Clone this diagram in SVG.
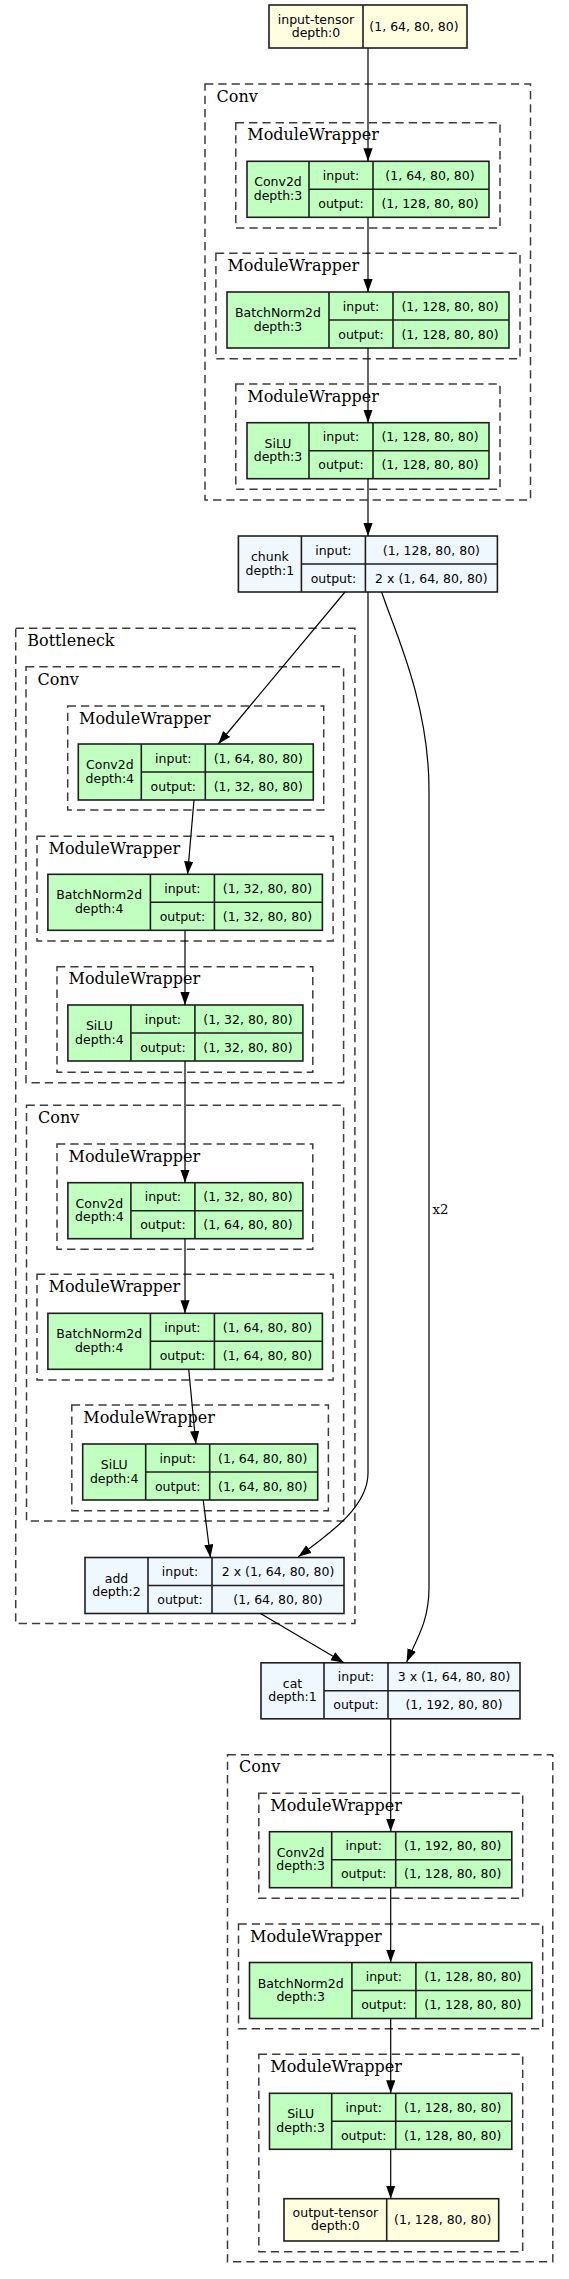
<svg xmlns="http://www.w3.org/2000/svg" width="569" height="2279" viewBox="0 0 569 2279">
<style>
.c{fill:none;stroke:#3c3c3c;stroke-width:1.5;stroke-dasharray:8.3,5}
.cl{font-family:"DejaVu Serif",serif;font-size:16px;fill:#000}
.n rect,.n line{stroke:#1e1e1e;stroke-width:1.6}
.g rect{fill:#c1ffc1}.b rect{fill:#f0f8ff}.y rect{fill:#ffffe0}
.t{font-family:"DejaVu Sans",sans-serif;font-size:12.5px;text-anchor:middle;fill:#000}
.e{fill:none;stroke:#000;stroke-width:1.2;marker-end:url(#a)}
.el{font-family:"DejaVu Serif",serif;font-size:13.3px;fill:#000}
</style>
<defs>
<marker id="a" markerUnits="userSpaceOnUse" markerWidth="14" markerHeight="10" refX="13" refY="4.6" orient="auto">
<path d="M0,0 L13,4.6 L0,9.2 z" fill="#000"/>
</marker>
</defs>
<rect width="569" height="2279" fill="#fff"/>

<!-- clusters -->
<g id="clusters">
<g id="conv-top"><rect class="c" x="205" y="84" width="325.5" height="416"/><text class="cl" x="216.5" y="101.7">Conv</text></g>
<g id="mw-top-1"><rect class="c" x="235.8" y="122.7" width="264.2" height="105.3"/><text class="cl" x="247.3" y="140.4">ModuleWrapper</text></g>
<g id="mw-top-2"><rect class="c" x="215.9" y="253.3" width="304.1" height="105.4"/><text class="cl" x="227.4" y="271">ModuleWrapper</text></g>
<g id="mw-top-3"><rect class="c" x="235.8" y="384" width="264.2" height="105.3"/><text class="cl" x="247.3" y="401.7">ModuleWrapper</text></g>

<g id="bottleneck"><rect class="c" x="15.7" y="628.3" width="339.2" height="995.3"/><text class="cl" x="27.3" y="646">Bottleneck</text></g>
<g id="conv-b1"><rect class="c" x="26" y="666.7" width="317.6" height="416"/><text class="cl" x="37.5" y="684.5">Conv</text></g>
<g id="mw-b1-1"><rect class="c" x="67.7" y="706" width="256" height="104"/><text class="cl" x="79" y="723.5">ModuleWrapper</text></g>
<g id="mw-b1-2"><rect class="c" x="37" y="836.3" width="296.1" height="104.7"/><text class="cl" x="48.5" y="854">ModuleWrapper</text></g>
<g id="mw-b1-3"><rect class="c" x="57" y="966.7" width="255.8" height="105.6"/><text class="cl" x="68.5" y="984.4">ModuleWrapper</text></g>
<g id="conv-b2"><rect class="c" x="26.5" y="1105.3" width="317.1" height="415.7"/><text class="cl" x="38" y="1123">Conv</text></g>
<g id="mw-b2-1"><rect class="c" x="57" y="1144" width="255.8" height="105.3"/><text class="cl" x="68.5" y="1161.7">ModuleWrapper</text></g>
<g id="mw-b2-2"><rect class="c" x="37" y="1274.3" width="296.1" height="105.7"/><text class="cl" x="48.5" y="1292">ModuleWrapper</text></g>
<g id="mw-b2-3"><rect class="c" x="71.8" y="1405" width="256.6" height="105.7"/><text class="cl" x="83.3" y="1422.7">ModuleWrapper</text></g>

<g id="conv-bot"><rect class="c" x="227.5" y="1754.7" width="325.3" height="507"/><text class="cl" x="239" y="1772.4">Conv</text></g>
<g id="mw-bot-1"><rect class="c" x="258.8" y="1793.3" width="263.9" height="105"/><text class="cl" x="270.3" y="1811">ModuleWrapper</text></g>
<g id="mw-bot-2"><rect class="c" x="238.5" y="1924" width="304.2" height="104.7"/><text class="cl" x="250" y="1941.7">ModuleWrapper</text></g>
<g id="mw-bot-3"><rect class="c" x="258.8" y="2054.3" width="263.9" height="197.4"/><text class="cl" x="270.3" y="2072">ModuleWrapper</text></g>
</g>

<!-- nodes -->
<g id="input-tensor" class="n y">
<rect x="269" y="5" width="198" height="43"/><line x1="363" y1="5" x2="363" y2="48"/>
<text class="t" x="316" y="23.5">input-tensor</text><text class="t" x="316" y="36.5">depth:0</text>
<text class="t" x="414" y="31">(1, 64, 80, 80)</text>
</g>

<g id="conv2d-top" class="n g">
<rect x="247" y="161.3" width="242" height="56"/><line x1="309" y1="161.3" x2="309" y2="217.3"/><line x1="373" y1="161.3" x2="373" y2="217.3"/><line x1="309" y1="189.3" x2="489" y2="189.3"/>
<text class="t" x="278" y="186.3">Conv2d</text><text class="t" x="278" y="199.8">depth:3</text>
<text class="t" x="341" y="179.8">input:</text><text class="t" x="341" y="207.8">output:</text>
<text class="t" x="430" y="179.8">(1, 64, 80, 80)</text><text class="t" x="430" y="207.8">(1, 128, 80, 80)</text>
</g>

<g id="bn-top" class="n g">
<rect x="227" y="292" width="282" height="56"/><line x1="329" y1="292" x2="329" y2="348"/><line x1="393" y1="292" x2="393" y2="348"/><line x1="329" y1="320" x2="509" y2="320"/>
<text class="t" x="278" y="317">BatchNorm2d</text><text class="t" x="278" y="330.5">depth:3</text>
<text class="t" x="361" y="310.5">input:</text><text class="t" x="361" y="338.5">output:</text>
<text class="t" x="450" y="310.5">(1, 128, 80, 80)</text><text class="t" x="450" y="338.5">(1, 128, 80, 80)</text>
</g>

<g id="silu-top" class="n g">
<rect x="247" y="422.7" width="242" height="56"/><line x1="309" y1="422.7" x2="309" y2="478.7"/><line x1="373" y1="422.7" x2="373" y2="478.7"/><line x1="309" y1="450.7" x2="489" y2="450.7"/>
<text class="t" x="278" y="447.7">SiLU</text><text class="t" x="278" y="461.2">depth:3</text>
<text class="t" x="341" y="441.2">input:</text><text class="t" x="341" y="469.2">output:</text>
<text class="t" x="430" y="441.2">(1, 128, 80, 80)</text><text class="t" x="430" y="469.2">(1, 128, 80, 80)</text>
</g>

<g id="chunk" class="n b">
<rect x="238.4" y="536" width="259" height="56"/><line x1="301.4" y1="536" x2="301.4" y2="592"/><line x1="365.4" y1="536" x2="365.4" y2="592"/><line x1="301.4" y1="564" x2="497.4" y2="564"/>
<text class="t" x="269.9" y="561">chunk</text><text class="t" x="269.9" y="574.5">depth:1</text>
<text class="t" x="333.4" y="554.5">input:</text><text class="t" x="333.4" y="582.5">output:</text>
<text class="t" x="431.4" y="554.5">(1, 128, 80, 80)</text><text class="t" x="431.4" y="582.5">2 x (1, 64, 80, 80)</text>
</g>

<g id="conv2d-b1" class="n g">
<rect x="78.3" y="744" width="235" height="56"/><line x1="141.3" y1="744" x2="141.3" y2="800"/><line x1="205.3" y1="744" x2="205.3" y2="800"/><line x1="141.3" y1="772" x2="313.3" y2="772"/>
<text class="t" x="109.8" y="769">Conv2d</text><text class="t" x="109.8" y="782.5">depth:4</text>
<text class="t" x="173.3" y="762.5">input:</text><text class="t" x="173.3" y="790.5">output:</text>
<text class="t" x="258.3" y="762.5">(1, 64, 80, 80)</text><text class="t" x="258.3" y="790.5">(1, 32, 80, 80)</text>
</g>

<g id="bn-b1" class="n g">
<rect x="47.9" y="874.3" width="274.5" height="56"/><line x1="150.4" y1="874.3" x2="150.4" y2="930.3"/><line x1="214.4" y1="874.3" x2="214.4" y2="930.3"/><line x1="150.4" y1="902.3" x2="322.4" y2="902.3"/>
<text class="t" x="99.2" y="899.3">BatchNorm2d</text><text class="t" x="99.2" y="912.8">depth:4</text>
<text class="t" x="182.4" y="892.8">input:</text><text class="t" x="182.4" y="920.8">output:</text>
<text class="t" x="267.4" y="892.8">(1, 32, 80, 80)</text><text class="t" x="267.4" y="920.8">(1, 32, 80, 80)</text>
</g>

<g id="silu-b1" class="n g">
<rect x="67.9" y="1005" width="235" height="56"/><line x1="130.9" y1="1005" x2="130.9" y2="1061"/><line x1="194.9" y1="1005" x2="194.9" y2="1061"/><line x1="130.9" y1="1033" x2="302.9" y2="1033"/>
<text class="t" x="99.4" y="1030">SiLU</text><text class="t" x="99.4" y="1043.5">depth:4</text>
<text class="t" x="162.9" y="1023.5">input:</text><text class="t" x="162.9" y="1051.5">output:</text>
<text class="t" x="247.9" y="1023.5">(1, 32, 80, 80)</text><text class="t" x="247.9" y="1051.5">(1, 32, 80, 80)</text>
</g>

<g id="conv2d-b2" class="n g">
<rect x="67.9" y="1182.7" width="235" height="56"/><line x1="130.9" y1="1182.7" x2="130.9" y2="1238.7"/><line x1="194.9" y1="1182.7" x2="194.9" y2="1238.7"/><line x1="130.9" y1="1210.7" x2="302.9" y2="1210.7"/>
<text class="t" x="99.4" y="1207.7">Conv2d</text><text class="t" x="99.4" y="1221.2">depth:4</text>
<text class="t" x="162.9" y="1201.2">input:</text><text class="t" x="162.9" y="1229.2">output:</text>
<text class="t" x="247.9" y="1201.2">(1, 32, 80, 80)</text><text class="t" x="247.9" y="1229.2">(1, 64, 80, 80)</text>
</g>

<g id="bn-b2" class="n g">
<rect x="47.9" y="1313.3" width="274.5" height="56"/><line x1="150.4" y1="1313.3" x2="150.4" y2="1369.3"/><line x1="214.4" y1="1313.3" x2="214.4" y2="1369.3"/><line x1="150.4" y1="1341.3" x2="322.4" y2="1341.3"/>
<text class="t" x="99.2" y="1338.3">BatchNorm2d</text><text class="t" x="99.2" y="1351.8">depth:4</text>
<text class="t" x="182.4" y="1331.8">input:</text><text class="t" x="182.4" y="1359.8">output:</text>
<text class="t" x="267.4" y="1331.8">(1, 64, 80, 80)</text><text class="t" x="267.4" y="1359.8">(1, 64, 80, 80)</text>
</g>

<g id="silu-b2" class="n g">
<rect x="82.7" y="1444" width="235" height="56"/><line x1="145.7" y1="1444" x2="145.7" y2="1500"/><line x1="209.7" y1="1444" x2="209.7" y2="1500"/><line x1="145.7" y1="1472" x2="317.7" y2="1472"/>
<text class="t" x="114.2" y="1469">SiLU</text><text class="t" x="114.2" y="1482.5">depth:4</text>
<text class="t" x="177.7" y="1462.5">input:</text><text class="t" x="177.7" y="1490.5">output:</text>
<text class="t" x="262.7" y="1462.5">(1, 64, 80, 80)</text><text class="t" x="262.7" y="1490.5">(1, 64, 80, 80)</text>
</g>

<g id="add" class="n b">
<rect x="85" y="1557.5" width="259" height="56"/><line x1="148" y1="1557.5" x2="148" y2="1613.5"/><line x1="212" y1="1557.5" x2="212" y2="1613.5"/><line x1="148" y1="1585.5" x2="344" y2="1585.5"/>
<text class="t" x="116.5" y="1582.5">add</text><text class="t" x="116.5" y="1596">depth:2</text>
<text class="t" x="180" y="1576">input:</text><text class="t" x="180" y="1604">output:</text>
<text class="t" x="278" y="1576">2 x (1, 64, 80, 80)</text><text class="t" x="278" y="1604">(1, 64, 80, 80)</text>
</g>

<g id="cat" class="n b">
<rect x="261" y="1662.8" width="259" height="56"/><line x1="324" y1="1662.8" x2="324" y2="1718.8"/><line x1="388" y1="1662.8" x2="388" y2="1718.8"/><line x1="324" y1="1690.8" x2="520" y2="1690.8"/>
<text class="t" x="292.5" y="1687.8">cat</text><text class="t" x="292.5" y="1701.3">depth:1</text>
<text class="t" x="356" y="1681.3">input:</text><text class="t" x="356" y="1709.3">output:</text>
<text class="t" x="454" y="1681.3">3 x (1, 64, 80, 80)</text><text class="t" x="454" y="1709.3">(1, 192, 80, 80)</text>
</g>

<g id="conv2d-bot" class="n g">
<rect x="269.5" y="1831.7" width="242.3" height="56"/><line x1="331.7" y1="1831.7" x2="331.7" y2="1887.7"/><line x1="395.7" y1="1831.7" x2="395.7" y2="1887.7"/><line x1="331.7" y1="1859.7" x2="511.8" y2="1859.7"/>
<text class="t" x="300.6" y="1856.7">Conv2d</text><text class="t" x="300.6" y="1870.2">depth:3</text>
<text class="t" x="363.7" y="1850.2">input:</text><text class="t" x="363.7" y="1878.2">output:</text>
<text class="t" x="452.7" y="1850.2">(1, 192, 80, 80)</text><text class="t" x="452.7" y="1878.2">(1, 128, 80, 80)</text>
</g>

<g id="bn-bot" class="n g">
<rect x="249.5" y="1962.5" width="282.3" height="56"/><line x1="351.9" y1="1962.5" x2="351.9" y2="2018.5"/><line x1="415.9" y1="1962.5" x2="415.9" y2="2018.5"/><line x1="351.9" y1="1990.5" x2="531.8" y2="1990.5"/>
<text class="t" x="300.7" y="1987.5">BatchNorm2d</text><text class="t" x="300.7" y="2001">depth:3</text>
<text class="t" x="383.9" y="1981">input:</text><text class="t" x="383.9" y="2009">output:</text>
<text class="t" x="472.9" y="1981">(1, 128, 80, 80)</text><text class="t" x="472.9" y="2009">(1, 128, 80, 80)</text>
</g>

<g id="silu-bot" class="n g">
<rect x="269.5" y="2093.3" width="242.3" height="56"/><line x1="331.7" y1="2093.3" x2="331.7" y2="2149.3"/><line x1="395.7" y1="2093.3" x2="395.7" y2="2149.3"/><line x1="331.7" y1="2121.3" x2="511.8" y2="2121.3"/>
<text class="t" x="300.6" y="2118.3">SiLU</text><text class="t" x="300.6" y="2131.8">depth:3</text>
<text class="t" x="363.7" y="2111.8">input:</text><text class="t" x="363.7" y="2139.8">output:</text>
<text class="t" x="452.7" y="2111.8">(1, 128, 80, 80)</text><text class="t" x="452.7" y="2139.8">(1, 128, 80, 80)</text>
</g>

<g id="output-tensor" class="n y">
<rect x="284" y="2198.7" width="214.7" height="42.3"/><line x1="386.7" y1="2198.7" x2="386.7" y2="2241"/>
<text class="t" x="335.4" y="2216.9">output-tensor</text><text class="t" x="335.4" y="2229.9">depth:0</text>
<text class="t" x="442.7" y="2224.4">(1, 128, 80, 80)</text>
</g>

<!-- connectors -->
<g id="edges">
<path class="e" d="M368,48 L368,161.3"/>
<path class="e" d="M368,217.3 L368,292"/>
<path class="e" d="M368,348 L368,422.7"/>
<path class="e" d="M368,478.7 L368,536"/>
<path class="e" d="M345,592 L218.3,744"/>
<path class="e" d="M368,592 L368,1473 C368,1505 335,1530 298.3,1556.7"/>
<path class="e" d="M381.7,592 C392,625 429,700 429,790 L429,1588 C429,1622 416,1640 406.7,1662"/>
<text class="el" x="432.5" y="1214">x2</text>
<path class="e" d="M194,800 L187.6,874.3"/>
<path class="e" d="M185,930.3 L185,1005"/>
<path class="e" d="M185,1061 L185,1182.7"/>
<path class="e" d="M185,1238.7 L185,1313.3"/>
<path class="e" d="M188.7,1369.3 L195.9,1444"/>
<path class="e" d="M203.2,1500 L210.4,1557.5"/>
<path class="e" d="M260.5,1613.5 L344,1662.8"/>
<path class="e" d="M390.7,1718.8 L390.7,1831.7"/>
<path class="e" d="M390.7,1887.7 L390.7,1962.5"/>
<path class="e" d="M390.7,2018.5 L390.7,2093.3"/>
<path class="e" d="M390.7,2149.3 L390.7,2198.7"/>
</g>
</svg>
